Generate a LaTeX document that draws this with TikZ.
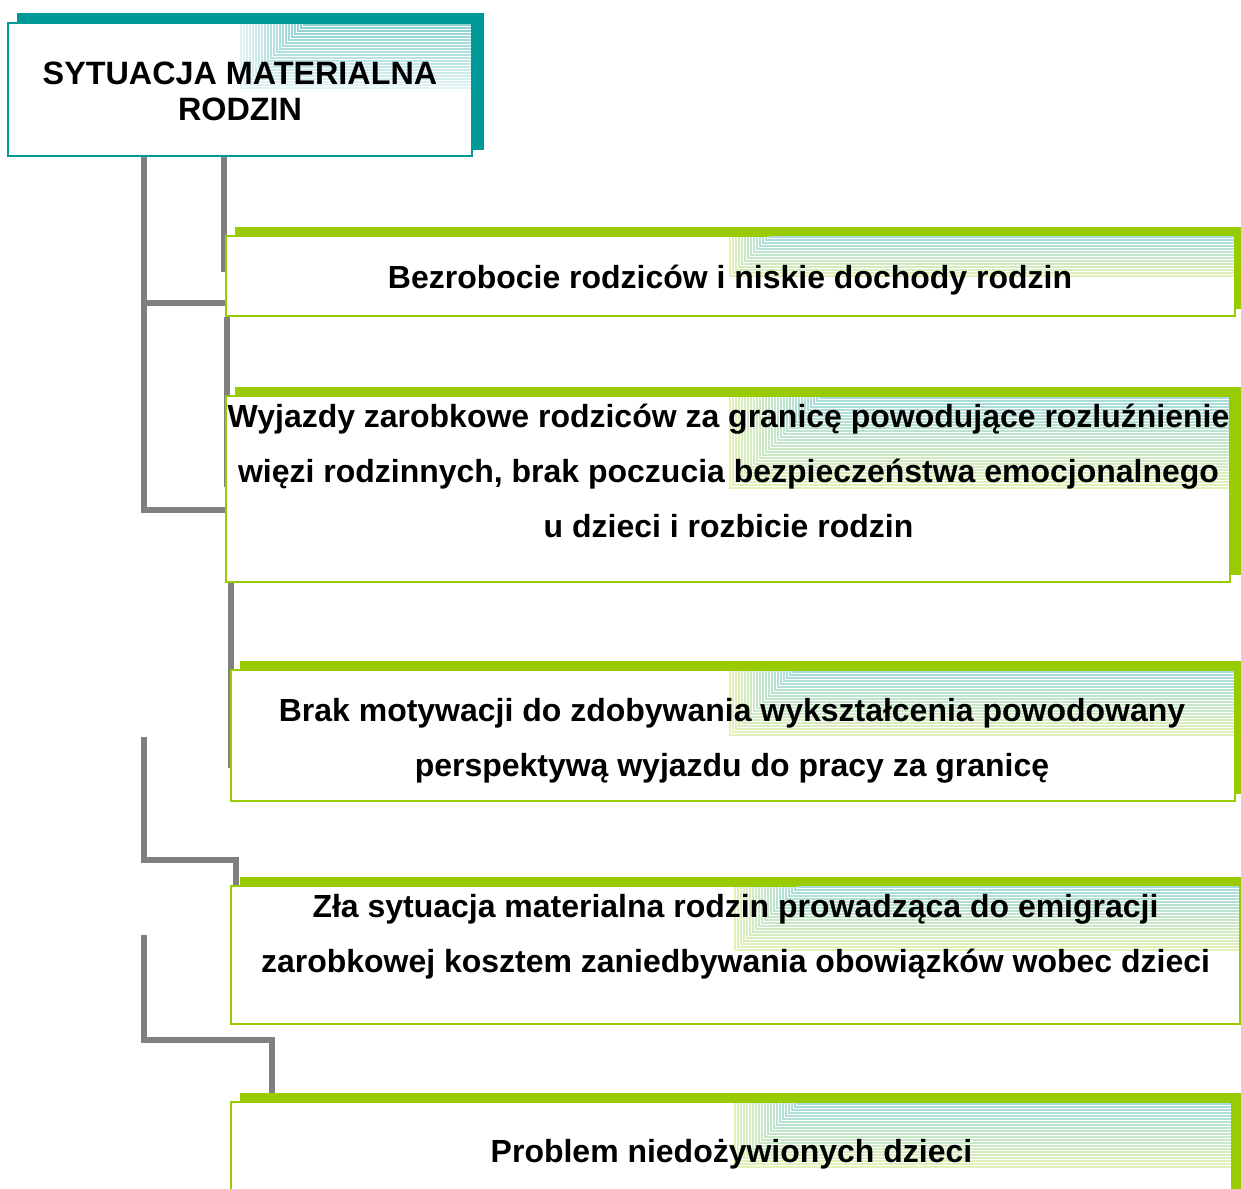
\documentclass[tikz,border=0pt]{standalone}
\usepackage{fontspec}
\setmainfont{Liberation Sans}
\usetikzlibrary{calc}
\pgfdeclarelayer{background}
\pgfsetlayers{background,main}

\definecolor{tealc}{RGB}{0,153,153}
\definecolor{greenc}{RGB}{153,204,0}
\definecolor{linkc}{RGB}{128,128,128}
\colorlet{hdtop}{tealc!45!white}
\colorlet{hdbot}{tealc!12!white}
\colorlet{ittop}{tealc!35!white}
\colorlet{itbot}{greenc!28!white}

\newcommand{\pxl}{0.02cm}
% striped corner: x0, y0 (top left), x1, y1 (bottom right), top colour, bottom colour
\newcommand{\stripes}[6]{%
  \pgfmathtruncatemacro{\nst}{(#4-#2)/3}
  \foreach \k in {0,...,\nst}{
    \pgfmathtruncatemacro{\pc}{100*\k/\nst}
    \draw[stripe, draw=#5!\pc!#6] (#3,#4-3*\k) -| (#1+3*\k,#2);
  }}

\begin{document}
\begin{tikzpicture}[x=0.02cm, y=-0.02cm,
    headbox/.style={draw=tealc, fill=white, inner sep=0pt, line width=0.04cm},
    itembox/.style={draw=greenc, fill=white, inner sep=0pt, line width=0.04cm},
    stripe/.style={line width=0.03cm},
    link/.style={draw=linkc, line width=0.12cm},
    headtext/.style={inner sep=0pt, align=center, font=\fontsize{18.4}{20.4}\selectfont\bfseries},
    itemtext/.style={inner sep=0pt, align=center, font=\fontsize{18.2}{31.5}\selectfont\bfseries}]

    \clip (0,0) rectangle (1241,1189);

    %Boxes
    \node[headbox, minimum width=464*\pxl, minimum height=133*\pxl] (title) at (240,89.5) {};
    \node[itembox, minimum width=1009*\pxl, minimum height=80*\pxl] (b1) at (730.5,276) {};
    \node[itembox, minimum width=1004*\pxl, minimum height=186*\pxl] (b2) at (728,489) {};
    \node[itembox, minimum width=1004*\pxl, minimum height=131*\pxl] (b3) at (733,735.5) {};
    \node[itembox, minimum width=1009*\pxl, minimum height=138*\pxl] (b4) at (735.5,955) {};
    \node[itembox, minimum width=1001*\pxl, minimum height=138*\pxl] (b5) at (731.5,1171) {};

    %Striped corners
    \stripes{241}{24}{471}{88}{hdtop}{hdbot}
    \stripes{730}{237}{1234}{276}{ittop}{itbot}
    \stripes{730}{397}{1229}{488}{ittop}{itbot}
    \stripes{730}{671}{1234}{735}{ittop}{itbot}
    \stripes{735}{887}{1239}{950}{ittop}{itbot}
    \stripes{735}{1103}{1231}{1167}{ittop}{itbot}

    %Texts
    \node[headtext] (t0) at (240,91) {SYTUACJA MATERIALNA\\RODZIN};
    \node[itemtext] (t1) at (730,280) {Bezrobocie rodziców i niskie dochody rodzin};
    \node[itemtext] (t2) at (728.5,471) {Wyjazdy zarobkowe rodziców za granicę powodujące rozluźnienie\\
        więzi rodzinnych, brak poczucia bezpieczeństwa emocjonalnego\\u dzieci i rozbicie rodzin};
    \node[itemtext] (t3) at (732,741) {Brak motywacji do zdobywania wykształcenia powodowany\\
        perspektywą wyjazdu do pracy za granicę};
    \node[itemtext] (t4) at (735.5,937) {Zła sytuacja materialna rodzin prowadząca do emigracji\\
        zarobkowej kosztem zaniedbywania obowiązków wobec dzieci};
    \node[itemtext] (t5) at (731.5,1154) {Problem niedożywionych dzieci};

    \begin{pgfonlayer}{background}
        %Connectors
        \coordinate (e1) at (224,272);
        \draw[link] (title.south -| e1) -- (e1);
        \coordinate (k1) at (144,303);
        \coordinate (k2) at (144,510);
        \draw[link] (title.south -| k2) -- (k2) -- (k2 -| b2.west);
        \draw[link] (k1) -- (k1 -| b1.west);
        \coordinate (e2) at (227,487);
        \draw[link] (b1.south -| e2) -- (e2);
        \coordinate (e3) at (231,768);
        \draw[link] (b2.south -| e3) -- (e3);
        \coordinate (s4) at (144,737);
        \coordinate (k4) at (236,860);
        \draw[link] (s4) |- (k4) -- (k4 |- b4.north);
        \coordinate (s5) at (144,935);
        \coordinate (k5) at (272,1040);
        \draw[link] (s5) |- (k5) -- (k5 |- b5.north);

        %Shadows
        \fill[tealc] ($(title.north west)+(10,-9)$) rectangle ($(title.south east)+(11,-7)$);
        \foreach \b in {b1,b2,b3,b4,b5}
            \fill[greenc] ($(\b.north west)+(10,-8)$) rectangle ($(\b.south east)+(10,-8)$);
    \end{pgfonlayer}

\end{tikzpicture}
\end{document}
